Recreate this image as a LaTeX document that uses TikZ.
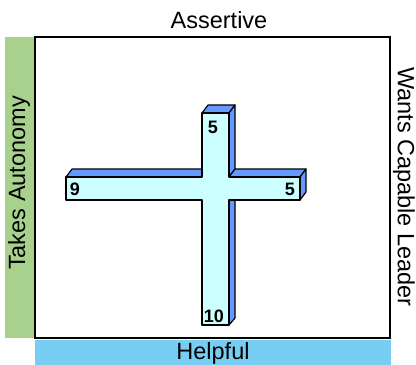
\documentclass[tikz,border=0pt]{standalone}
\usepackage{fontspec}
\setmainfont{Liberation Sans}
\usepackage{xcolor}
\definecolor{frontcyan}{RGB}{204,255,255}
\definecolor{sideblue}{RGB}{102,153,255}
\definecolor{softgreen}{RGB}{169,209,142}
\definecolor{barblue}{RGB}{120,205,242}

\begin{document}
\begin{tikzpicture}[x=1pt, y=-1pt,
  side/.style={fill=sideblue, draw=black, line width=1.2pt, line join=round},
  face/.style={fill=frontcyan, draw=black, line width=1.2pt, line join=round},
  num/.style={font=\fontsize{18}{20}\selectfont\bfseries, inner sep=0pt},
  axis/.style={font=\fontsize{23.5}{26}\selectfont, inner sep=0pt}]
  \useasboundingbox (0,0) rectangle (416,365);
  % side bars and frame
  \fill[softgreen] (5,37) rectangle (35,338);
  \fill[barblue] (35,340) rectangle (391,365);
  \draw[line width=2.5pt] (35,37) rectangle (390,338);
  % axis labels
  \node[axis] (assertive) at (219,20) {Assertive};
  \node[axis] (helpful) at (213,353.5) {Helpful};
  \node[axis, rotate=90] (autonomy) at (19,183) {Takes Autonomy};
  \node[axis, rotate=-90] (leader) at (404,187) {Wants Capable Leader};
  % 3D cross: back faces first
  \draw[side] (202,113) -- (229,113) -- (235,105) -- (208,105) -- cycle;
  \draw[side] (229,113) -- (235,105) -- (235,169) -- (229,177) -- cycle;
  \draw[side] (66,177) -- (202,177) -- (208,169) -- (72,169) -- cycle;
  \draw[side] (229,177) -- (300,177) -- (306,169) -- (235,169) -- cycle;
  \draw[side] (300,177) -- (306,169) -- (306,192) -- (300,200) -- cycle;
  \draw[side] (229,200) -- (235,192) -- (235,318) -- (229,325) -- cycle;
  % front face
  \draw[face] (202,113) -- (229,113) -- (229,177) -- (300,177) -- (300,200)
    -- (229,200) -- (229,325) -- (202,325) -- (202,200) -- (66,200)
    -- (66,177) -- (202,177) -- cycle;
  % scores
  \node[num] (top) at (213,127) {5};
  \node[num] (left) at (75,189) {9};
  \node[num] (right) at (290,189) {5};
  \node[num] (bottom) at (214,316) {10};
\end{tikzpicture}
\end{document}
